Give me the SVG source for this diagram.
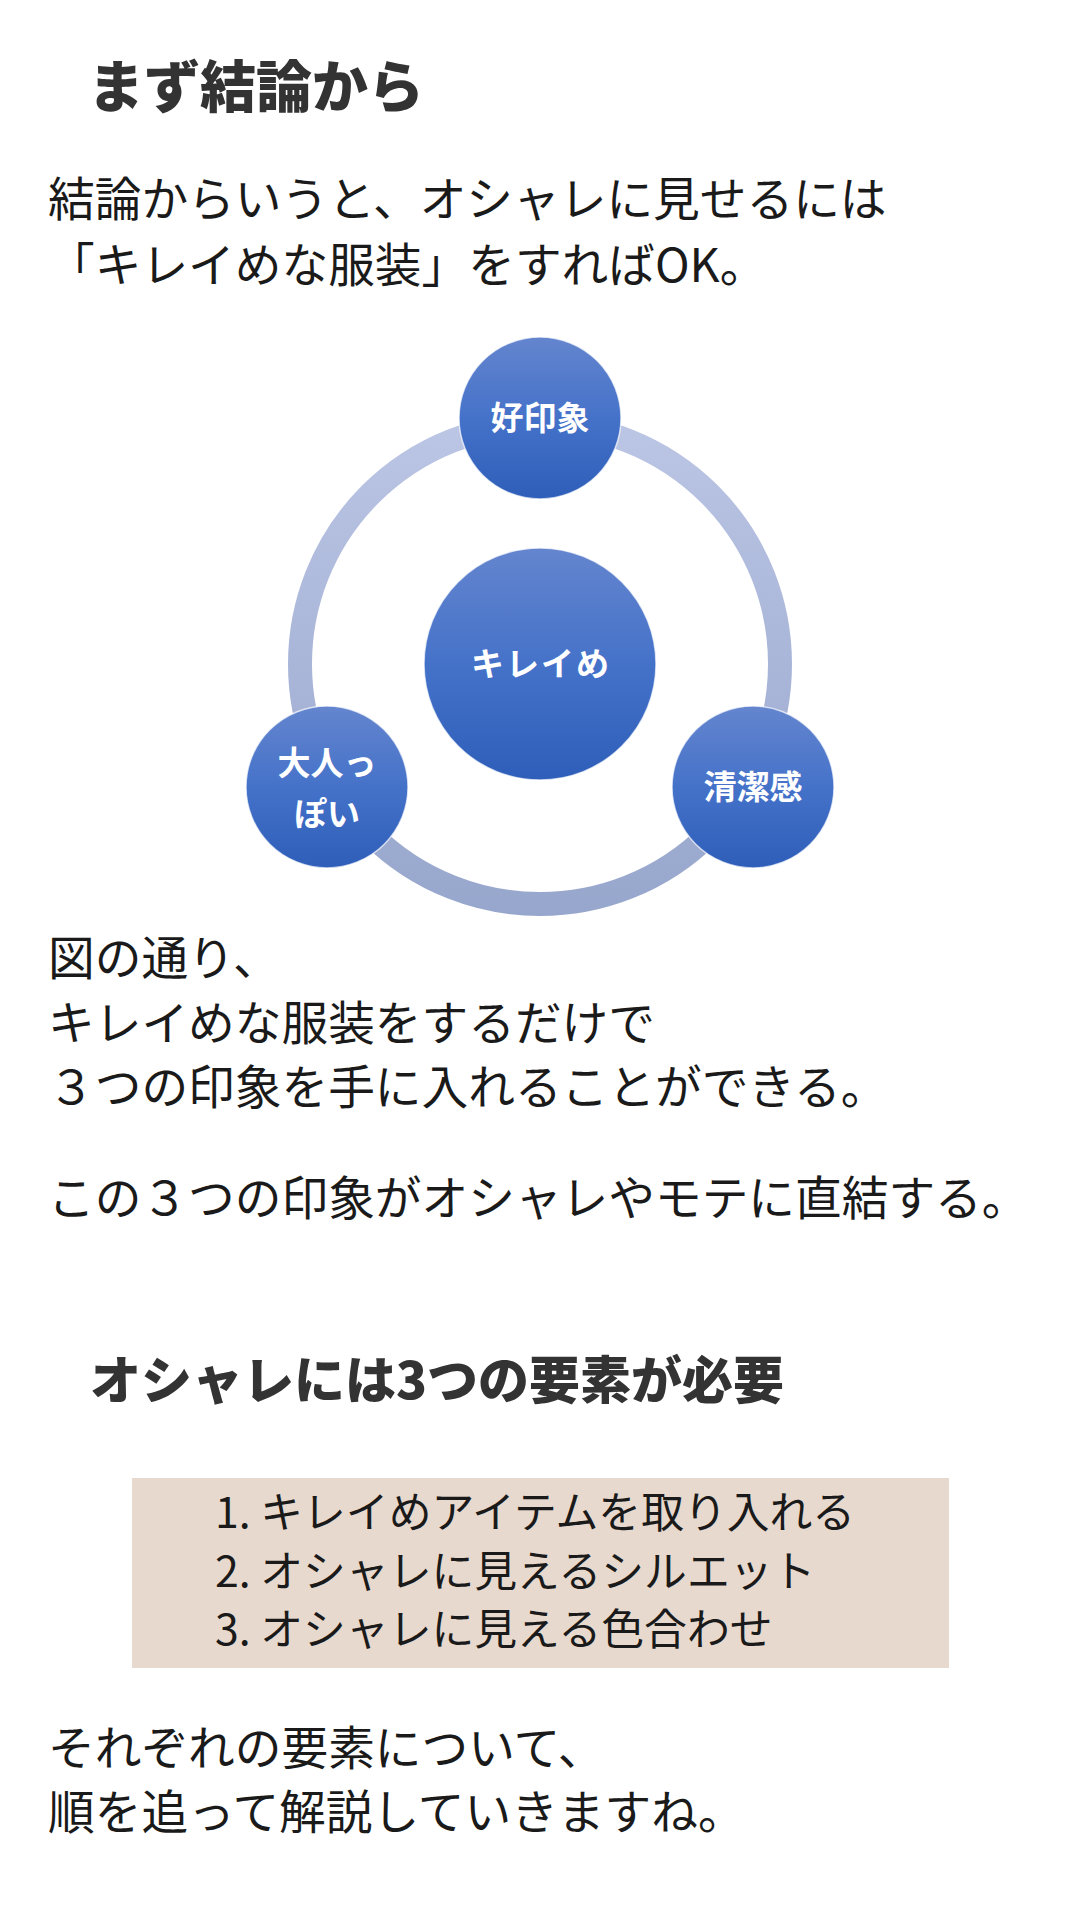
<svg xmlns="http://www.w3.org/2000/svg" width="1080" height="1920" viewBox="0 0 1080 1920">
  <defs>
    <linearGradient id="nodeGrad" x1="0" y1="0" x2="0" y2="1">
      <stop offset="0" stop-color="#6485ce"/>
      <stop offset="0.5" stop-color="#4572c9"/>
      <stop offset="1" stop-color="#2e5eb9"/>
    </linearGradient>
    <linearGradient id="ringGrad" gradientUnits="userSpaceOnUse" x1="0" y1="412" x2="0" y2="916">
      <stop offset="0" stop-color="#bcc6e5"/>
      <stop offset="1" stop-color="#97a6cc"/>
    </linearGradient>
  </defs>
  <style>
    .h { font-family: "Noto Sans CJK JP", "Noto Sans", sans-serif; font-weight: 900; fill: #333333; }
    .b { font-family: "Noto Sans CJK JP", "Noto Sans", sans-serif; font-weight: 400; fill: #1a1a1a; font-size: 46.7px; }
    .it { font-family: "Noto Sans CJK JP", "Noto Sans", sans-serif; font-weight: 400; fill: #1a1a1a; font-size: 42.8px; }
    .node { fill: url(#nodeGrad); stroke: #ffffff; stroke-opacity: 0.7; stroke-width: 1.5; }
    .nl { font-family: "Noto Sans CJK JP", "Noto Sans", sans-serif; font-weight: 700; fill: #ffffff; font-size: 33px; text-anchor: middle; }
  </style>
  <rect width="1080" height="1920" fill="#ffffff"/>

  <text class="h" x="88" y="107" font-size="56">まず結論から</text>

  <text class="b" x="48" y="216">結論からいうと、オシャレに見せるには</text>
  <text class="b" x="48" y="282">「キレイめな服装」をすればOK。</text>

  <g id="connectors">
    <circle id="ring" cx="540" cy="664" r="240" fill="none" stroke="url(#ringGrad)" stroke-width="24"/>
  </g>

  <g id="node-center">
    <circle class="node" cx="540" cy="664" r="116"/>
    <text class="nl" x="541" y="676" letter-spacing="2">キレイめ</text>
  </g>
  <g id="node-top">
    <circle class="node" cx="540" cy="418" r="81"/>
    <text class="nl" x="540" y="430">好印象</text>
  </g>
  <g id="node-left">
    <circle class="node" cx="327" cy="787" r="81"/>
    <text class="nl" x="327" y="775">大人っ</text>
    <text class="nl" x="327" y="826">ぽい</text>
  </g>
  <g id="node-right">
    <circle class="node" cx="753" cy="787" r="81"/>
    <text class="nl" x="753" y="799">清潔感</text>
  </g>

  <text class="b" x="48" y="975">図の通り、</text>
  <text class="b" x="48" y="1040">キレイめな服装をするだけで</text>
  <text class="b" x="48" y="1104">３つの印象を手に入れることができる。</text>
  <text class="b" x="48" y="1215">この３つの印象がオシャレやモテに直結する。</text>

  <text class="h" x="90" y="1399" font-size="51">オシャレには3つの要素が必要</text>

  <g id="list-box">
    <rect x="132" y="1478" width="817" height="190" fill="#e8d9ce"/>
    <text class="it" x="215" y="1528">1. キレイめアイテムを取り入れる</text>
    <text class="it" x="215" y="1587">2. オシャレに見えるシルエット</text>
    <text class="it" x="215" y="1645">3. オシャレに見える色合わせ</text>
  </g>

  <text class="b" x="48" y="1765">それぞれの要素について、</text>
  <text class="b" x="48" y="1829">順を追って解説していきますね。</text>
</svg>
